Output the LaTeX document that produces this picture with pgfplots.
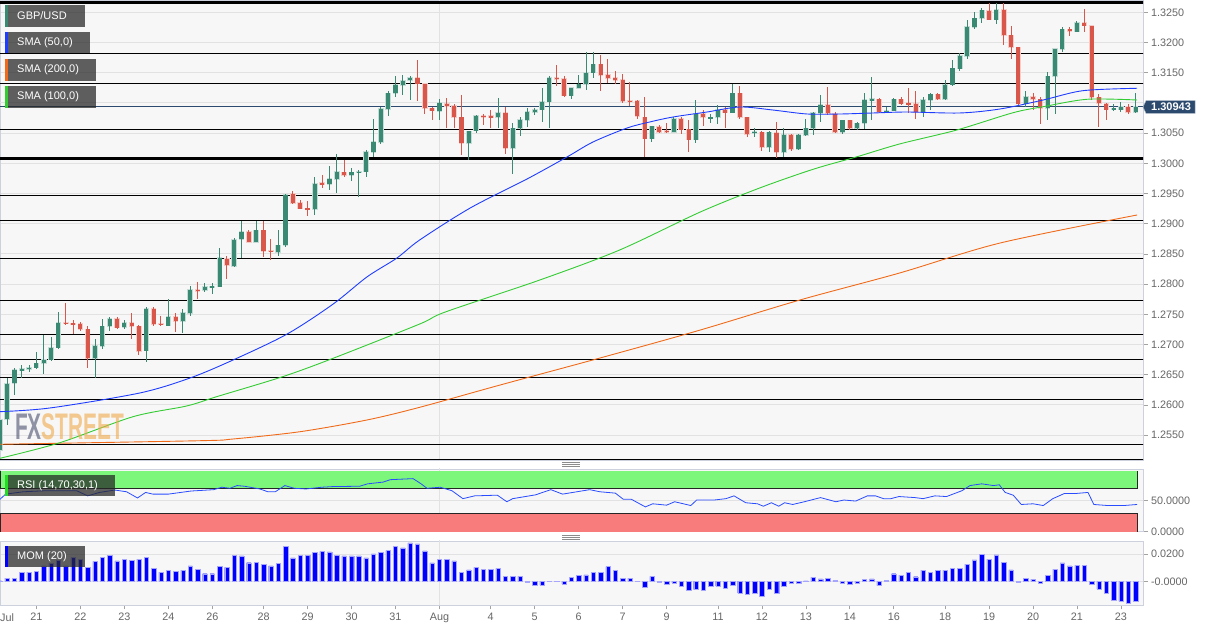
\documentclass[border=0pt]{standalone}
\usepackage{fontspec}
\setmainfont{Liberation Sans}
\usepackage{pgfplots}
\pgfplotsset{compat=1.18}
\usepackage{pgfplotstable}
\definecolor{bg}{HTML}{F7F7F7}
\definecolor{bord}{HTML}{CDD1DD}
\definecolor{gridc}{HTML}{E2E2E2}
\definecolor{tickc}{HTML}{666666}
\definecolor{cup}{HTML}{3A8A73}
\definecolor{cdn}{HTML}{D9574A}
\colorlet{cuph}{cup!30!white}
\colorlet{cdnh}{cdn!30!white}
\definecolor{smablue}{HTML}{1F3DFF}
\definecolor{smagreen}{HTML}{33CC33}
\definecolor{smaorange}{HTML}{F06A1A}
\definecolor{pricec}{HTML}{2C4A6E}
\definecolor{rsigreen}{HTML}{7CF77C}
\definecolor{rsired}{HTML}{F97C7C}
\definecolor{rsiline}{HTML}{2A4CFF}
\definecolor{mom}{HTML}{0000FF}
\definecolor{boxc}{HTML}{262626}
\definecolor{stripgreen}{HTML}{22DD22}
\definecolor{wmgray}{HTML}{48506E}
\definecolor{wmorange}{HTML}{F0AA4A}

\pgfplotstableread{
i o h l c
0 1.2525 1.2580 1.2520 1.2575
1 1.2576 1.2644 1.2567 1.2635
2 1.2636 1.2661 1.2616 1.2658
3 1.2658 1.2666 1.2644 1.2659
4 1.2659 1.2666 1.2655 1.2662
5 1.2662 1.2688 1.2660 1.2669
6 1.2669 1.2716 1.2652 1.2675
7 1.2675 1.2713 1.2672 1.2695
8 1.2695 1.2753 1.2693 1.2736
13 1.2677 1.2709 1.2644 1.2698
14 1.2697 1.2743 1.2692 1.2730
15 1.2730 1.2746 1.2723 1.2743
17 1.2729 1.2741 1.2725 1.2736
20 1.2690 1.2762 1.2671 1.2759
23 1.2731 1.2775 1.2730 1.2746
25 1.2739 1.2758 1.2719 1.2752
26 1.2752 1.2797 1.2748 1.2790
28 1.2790 1.2802 1.2787 1.2795
29 1.2795 1.2802 1.2783 1.2796
30 1.2796 1.2859 1.2795 1.2843
32 1.2830 1.2877 1.2828 1.2873
33 1.2874 1.2905 1.2843 1.2887
35 1.2870 1.2905 1.2869 1.2889
38 1.2853 1.2890 1.2847 1.2864
39 1.2864 1.2949 1.2862 1.2948
43 1.2924 1.2977 1.2914 1.2966
45 1.2966 1.2996 1.2955 1.2974
46 1.2974 1.3015 1.2950 1.2986
48 1.2980 1.2993 1.2971 1.2985
49 1.2985 1.2989 1.2945 1.2986
50 1.2986 1.3022 1.2978 1.3019
51 1.3019 1.3073 1.3011 1.3035
52 1.3035 1.3093 1.3032 1.3090
53 1.3090 1.3120 1.3079 1.3116
54 1.3116 1.3144 1.3110 1.3130
55 1.3130 1.3146 1.3113 1.3137
56 1.3138 1.3144 1.3105 1.3141
60 1.3087 1.3106 1.3071 1.3100
64 1.3033 1.3053 1.3005 1.3053
65 1.3054 1.3080 1.3050 1.3079
68 1.3076 1.3108 1.3058 1.3084
70 1.3025 1.3066 1.2982 1.3058
71 1.3058 1.3076 1.3046 1.3072
72 1.3072 1.3091 1.3060 1.3085
73 1.3085 1.3092 1.3080 1.3089
74 1.3089 1.3124 1.3068 1.3102
75 1.3102 1.3144 1.3058 1.3142
78 1.3112 1.3125 1.3107 1.3125
79 1.3125 1.3146 1.3124 1.3131
80 1.3131 1.3184 1.3122 1.3150
81 1.3150 1.3185 1.3142 1.3164
89 1.3041 1.3062 1.3036 1.3061
92 1.3052 1.3077 1.3051 1.3074
95 1.3039 1.3105 1.3034 1.3082
97 1.3075 1.3081 1.3066 1.3076
98 1.3076 1.3096 1.3065 1.3088
100 1.3084 1.3132 1.3084 1.3116
103 1.3050 1.3058 1.3044 1.3052
105 1.3027 1.3054 1.3019 1.3051
107 1.3018 1.3058 1.3010 1.3047
109 1.3023 1.3048 1.3022 1.3047
110 1.3047 1.3074 1.3045 1.3058
111 1.3058 1.3085 1.3047 1.3083
112 1.3083 1.3113 1.3069 1.3097
115 1.3052 1.3072 1.3048 1.3071
117 1.3058 1.3069 1.3055 1.3066
118 1.3066 1.3116 1.3056 1.3105
119 1.3105 1.3143 1.3072 1.3106
121 1.3085 1.3093 1.3084 1.3087
122 1.3087 1.3108 1.3086 1.3106
126 1.3085 1.3110 1.3077 1.3105
127 1.3105 1.3116 1.3088 1.3114
129 1.3106 1.3138 1.3105 1.3130
130 1.3130 1.3171 1.3128 1.3157
131 1.3157 1.3182 1.3152 1.3178
132 1.3178 1.3237 1.3172 1.3226
133 1.3226 1.3251 1.3223 1.3240
134 1.3240 1.3257 1.3233 1.3253
136 1.3238 1.3266 1.3231 1.3254
140 1.3099 1.3120 1.3094 1.3110
143 1.3091 1.3152 1.3072 1.3144
144 1.3144 1.3190 1.3081 1.3189
145 1.3189 1.3225 1.3185 1.3222
147 1.3218 1.3236 1.3218 1.3233
152 1.3089 1.3098 1.3087 1.3091
153 1.3089 1.3102 1.3085 1.3094
155 1.3085 1.3116 1.3084 1.3094
}\upt

\pgfplotstableread{
i o h l c
9 1.2736 1.2768 1.2732 1.2735
10 1.2735 1.2741 1.2717 1.2734
11 1.2734 1.2738 1.2722 1.2726
12 1.2725 1.2731 1.2662 1.2677
16 1.2743 1.2746 1.2725 1.2728
18 1.2736 1.2752 1.2709 1.2730
19 1.2730 1.2732 1.2682 1.2689
21 1.2759 1.2762 1.2730 1.2734
22 1.2734 1.2748 1.2731 1.2733
24 1.2746 1.2752 1.2720 1.2739
27 1.2790 1.2804 1.2776 1.2789
31 1.2842 1.2847 1.2808 1.2831
34 1.2887 1.2890 1.2869 1.2870
36 1.2889 1.2905 1.2845 1.2855
37 1.2855 1.2874 1.2840 1.2854
40 1.2949 1.2954 1.2932 1.2934
41 1.2934 1.2939 1.2924 1.2925
42 1.2925 1.2938 1.2912 1.2924
44 1.2967 1.2981 1.2959 1.2966
47 1.2985 1.3005 1.2978 1.2980
57 1.3142 1.3171 1.3104 1.3132
58 1.3132 1.3132 1.3082 1.3091
59 1.3091 1.3093 1.3071 1.3087
61 1.3098 1.3108 1.3058 1.3095
62 1.3095 1.3098 1.3058 1.3077
63 1.3076 1.3113 1.3014 1.3033
66 1.3079 1.3082 1.3063 1.3077
67 1.3078 1.3089 1.3058 1.3076
69 1.3084 1.3093 1.3016 1.3025
76 1.3142 1.3163 1.3128 1.3140
77 1.3140 1.3144 1.3110 1.3112
82 1.3164 1.3179 1.3119 1.3146
83 1.3146 1.3172 1.3133 1.3141
84 1.3141 1.3153 1.3131 1.3138
85 1.3138 1.3148 1.3100 1.3103
86 1.3104 1.3135 1.3095 1.3102
87 1.3103 1.3105 1.3073 1.3078
88 1.3076 1.3110 1.3011 1.3041
90 1.3060 1.3064 1.3050 1.3052
91 1.3054 1.3066 1.3050 1.3052
93 1.3074 1.3076 1.3048 1.3056
94 1.3056 1.3072 1.3019 1.3039
96 1.3082 1.3088 1.3061 1.3076
99 1.3088 1.3094 1.3058 1.3084
101 1.3116 1.3128 1.3073 1.3076
102 1.3076 1.3077 1.3044 1.3048
104 1.3051 1.3053 1.3021 1.3027
106 1.3051 1.3069 1.3008 1.3018
108 1.3047 1.3048 1.3021 1.3023
113 1.3097 1.3127 1.3080 1.3083
114 1.3082 1.3085 1.3050 1.3052
116 1.3071 1.3072 1.3055 1.3058
120 1.3106 1.3108 1.3084 1.3085
123 1.3106 1.3110 1.3097 1.3099
124 1.3100 1.3124 1.3083 1.3098
125 1.3098 1.3120 1.3074 1.3085
128 1.3114 1.3116 1.3105 1.3106
135 1.3253 1.3265 1.3237 1.3238
137 1.3254 1.3265 1.3196 1.3212
138 1.3212 1.3227 1.3172 1.3192
139 1.3192 1.3193 1.3095 1.3099
141 1.3110 1.3116 1.3088 1.3106
142 1.3106 1.3110 1.3065 1.3091
146 1.3222 1.3225 1.3211 1.3219
148 1.3233 1.3255 1.3218 1.3228
149 1.3228 1.3228 1.3105 1.3109
150 1.3109 1.3115 1.3060 1.3099
151 1.3098 1.3100 1.3071 1.3089
154 1.3094 1.3099 1.3082 1.3085
}\dnt

\pgfplotstableread{
i m
0 0.0005
1 0.0025
2 0.0022
3 0.0069
4 0.0069
5 0.0077
6 0.0114
7 0.0133
8 0.0153
9 0.0114
10 0.0178
11 0.0163
12 0.0104
13 0.0148
14 0.0178
15 0.0193
16 0.0151
17 0.0163
18 0.0153
19 0.0165
20 0.0180
21 0.0094
22 0.0069
23 0.0084
24 0.0074
25 0.0084
26 0.0114
27 0.0089
28 0.0057
29 0.0057
30 0.0109
31 0.0104
32 0.0193
33 0.0188
34 0.0138
35 0.0143
36 0.0126
37 0.0114
38 0.0133
39 0.0257
40 0.0173
41 0.0190
42 0.0190
43 0.0215
44 0.0222
45 0.0217
46 0.0193
47 0.0188
48 0.0188
49 0.0188
50 0.0173
51 0.0203
52 0.0215
53 0.0227
54 0.0259
55 0.0247
56 0.0284
57 0.0277
58 0.0225
59 0.0136
60 0.0165
61 0.0165
62 0.0151
63 0.0067
64 0.0086
65 0.0104
66 0.0091
67 0.0091
68 0.0096
69 0.0040
70 0.0040
71 0.0037
72 -0.0002
73 -0.0025
74 -0.0027
75 0.0002
76 0.0001
77 -0.0020
78 0.0032
79 0.0047
80 0.0049
81 0.0069
82 0.0069
83 0.0109
84 0.0084
85 0.0025
86 0.0025
87 0.0001
88 -0.0042
89 0.0037
90 -0.0007
91 -0.0020
92 -0.0010
93 -0.0032
94 -0.0062
95 -0.0059
96 -0.0062
97 -0.0032
98 -0.0035
99 -0.0047
100 -0.0030
101 -0.0086
102 -0.0094
103 -0.0089
104 -0.0109
105 -0.0054
106 -0.0084
107 -0.0032
108 -0.0015
109 -0.0012
110 0.0005
111 0.0030
112 0.0020
113 0.0022
114 0.0007
115 -0.0012
116 -0.0017
117 -0.0010
118 0.0015
119 0.0020
120 -0.0030
121 0.0010
122 0.0057
123 0.0047
124 0.0069
125 0.0035
126 0.0084
127 0.0067
128 0.0084
129 0.0082
130 0.0096
131 0.0094
132 0.0128
133 0.0158
134 0.0200
135 0.0165
136 0.0195
137 0.0143
138 0.0086
139 -0.0002
140 0.0022
141 0.0017
142 -0.0015
143 0.0044
144 0.0091
145 0.0136
146 0.0114
147 0.0119
148 0.0121
149 -0.0017
150 -0.0057
151 -0.0089
152 -0.0136
153 -0.0146
154 -0.0163
155 -0.0143
}\momt

\pgfplotsset{
  panel/.style={scale only axis, width=1143pt, xmin=0.0328, xmax=156.01,
    axis background/.style={fill=bg}, axis line style={draw=bord, line width=0.8pt},
    ytick pos=right, yticklabel pos=right, tick align=outside, major tick length=4.5pt,
    tick style={draw=tickc!60, line width=0.7pt}, scaled ticks=false,
    grid style={draw=gridc, line width=0.8pt}, ymajorgrids,
    tick label style={font=\fontsize{10.8}{13}\selectfont, text=tickc}},
  candle/.style 2 args={draw=none, mark=none, forget plot,
    error bars/y dir=both, error bars/y explicit, error bars/error mark=none,
    error bars/error bar style={line width=#1, draw=#2, solid}}
}

\begin{document}
\begin{tikzpicture}
\useasboundingbox (0,0) rectangle (1214pt,631pt);
\fill[white] (0,0) rectangle (1214pt,631pt);

% ---------------- main price panel
\begin{axis}[panel, at={(0pt,171pt)}, anchor=south west, height=460pt,
  ymin=1.250878, ymax=1.327036, xtick=\empty,
  ytick={1.255,1.26,1.265,1.27,1.275,1.28,1.285,1.29,1.295,1.3,1.305,1.315,1.32,1.325},
  yticklabels={1.2550,1.2600,1.2650,1.2700,1.2750,1.2800,1.2850,1.2900,1.2950,1.3000,1.3050,1.3150,1.3200,1.3250}]
\addplot[gridc, line width=0.8pt] coordinates {(60,1.2) (60,1.4)};
\addplot[gridc, line width=0.8pt] coordinates {(0,1.31) (157,1.31)};
\pgfplotsinvokeforeach{1.31821,1.31330,1.30568,1.29475,1.29051,1.28422,1.27727,1.27164,1.26750,1.26452,1.26088,1.25353,1.25094}{
  \addplot[black, line width=0.9pt] coordinates {(0,#1) (157,#1)};
}
\addplot[black, line width=2.7pt] coordinates {(0,1.32666) (157,1.32666)};
\addplot[black, line width=2.7pt] coordinates {(0,1.30083) (157,1.30083)};
\addplot[pricec, line width=0.9pt] coordinates {(0,1.30943) (157,1.30943)};

% candle halos
\addplot[candle={5.6pt}{cuph}] table[x=i, y expr={(\thisrow{o}+\thisrow{c})/2}, y error expr={max(abs(\thisrow{c}-\thisrow{o})/2,0.00007)+0.00012}] {\upt};
\addplot[candle={5.6pt}{cdnh}] table[x=i, y expr={(\thisrow{o}+\thisrow{c})/2}, y error expr={max(abs(\thisrow{c}-\thisrow{o})/2,0.00007)+0.00012}] {\dnt};
% wicks
\addplot[candle={1pt}{cup}] table[x=i, y expr={(\thisrow{h}+\thisrow{l})/2}, y error expr={(\thisrow{h}-\thisrow{l})/2}] {\upt};
\addplot[candle={1pt}{cdn}] table[x=i, y expr={(\thisrow{h}+\thisrow{l})/2}, y error expr={(\thisrow{h}-\thisrow{l})/2}] {\dnt};
% bodies
\addplot[candle={4.2pt}{cup}] table[x=i, y expr={(\thisrow{o}+\thisrow{c})/2}, y error expr={max(abs(\thisrow{c}-\thisrow{o})/2,0.00007)}] {\upt};
\addplot[candle={4.2pt}{cdn}] table[x=i, y expr={(\thisrow{o}+\thisrow{c})/2}, y error expr={max(abs(\thisrow{c}-\thisrow{o})/2,0.00007)}] {\dnt};

% SMA 200
\addplot[smaorange, line width=0.9pt, smooth] coordinates {
(0.03,1.25348) (27.3,1.25407) (31.8,1.25435) (40.97,1.25556) (50.1,1.25750) (57.3,1.25960)
(68.3,1.26330) (81.9,1.26776) (95.6,1.27240) (109.2,1.27737) (122.8,1.28184) (136.5,1.28680) (155.2,1.29144)};
% SMA 100
\addplot[smagreen, line width=0.9pt, smooth] coordinates {
(0.03,1.25116) (8.2,1.25374) (18.2,1.25805) (25.5,1.25982) (29.6,1.26136) (38.6,1.26467) (45.5,1.26772)
(57.3,1.27339) (60.8,1.27538) (73.7,1.28068) (84.6,1.28565) (95.6,1.29194) (103.7,1.29591) (111,1.29901)
(117,1.30109) (122.8,1.30320) (130.6,1.30551) (138.3,1.30838) (142.4,1.30937) (148.4,1.31060) (155.2,1.31048)};
% SMA 50
\addplot[smablue, line width=0.9pt, smooth] coordinates {
(0.03,1.25888) (6.86,1.25949) (19.1,1.26197) (25.96,1.26445) (31.83,1.26743) (39.2,1.27172) (45.5,1.27670)
(50.1,1.28118) (54.2,1.28432) (57.3,1.28730) (64.2,1.29260) (71.95,1.29740) (77.4,1.30104) (80.96,1.30353)
(85.6,1.30584) (88.7,1.30684) (91.9,1.30767) (96.5,1.30849) (101,1.30932) (105.5,1.30882) (110.2,1.30816)
(114.7,1.30816) (119.2,1.30833) (123.8,1.30849) (131,1.30833) (136.5,1.30899) (142.4,1.31048) (147.8,1.31202) (155.2,1.31242)};
\end{axis}

% ---------------- RSI panel
\begin{axis}[panel, at={(0pt,99.3pt)}, anchor=south west, height=62.7pt,
  ymin=0, ymax=101.13, xtick=\empty, ytick={0,50}, yticklabels={0.0000,50.0000}]
\addplot[gridc, line width=0.8pt] coordinates {(60,0) (60,110)};
\addplot[fill=rsigreen, draw=none] coordinates {(0.0328,70) (155.25,70) (155.25,97.9) (0.0328,97.9)} -- cycle;
\addplot[fill=rsired, draw=none] coordinates {(0.0328,0) (155.25,0) (155.25,30) (0.0328,30)} -- cycle;
\addplot[black!85, line width=0.7pt] coordinates {(0.12,97.9) (0.12,70) (155.25,70) (155.25,97.9)};
\addplot[black!85, line width=0.7pt] coordinates {(0.12,0) (0.12,30) (155.25,30) (155.25,0)};
\addplot[rsiline, line width=0.8pt] coordinates {
(0.03,52.2) (0.8,60.6) (3.2,64.4) (6.3,66.1) (10.5,66.1) (12,57.8) (13.6,63.3) (15.7,67.2) (17.3,64.4)
(18.8,54.4) (19.9,63.3) (20.9,60.6) (23,60.6) (26.1,65.6) (29.2,67.8) (30.3,71.7) (31.4,70) (32.4,74.4)
(33.4,73.3) (35.5,68.9) (36.6,64.4) (37.6,64.4) (38.9,74.4) (40.2,70) (41.8,68.9) (43.9,71.7) (45.5,72.8)
(49.1,73.3) (50.2,77.2) (52.3,80) (53.3,83.9) (56.4,85.6) (57.5,77.2) (58.3,70) (60.1,71.7) (61.7,66.1)
(63.2,53.3) (64.8,57.8) (67.9,58.9) (69.2,48.3) (70,53.3) (73.1,59.4) (75.2,67.8) (76.8,60.6) (80.5,67.8)
(81.9,64.4) (84,62.2) (85.1,52.2) (86.2,52.2) (88.1,40) (89.1,45) (91,42.8) (92.1,48.3) (94.3,42.2)
(95.1,51.1) (97.5,51.1) (99.1,53.3) (100.2,57.8) (101.8,46.7) (103.4,45) (104.2,41.1) (105.3,46.7)
(106.3,41.1) (107.1,46.7) (108.2,43.9) (109.8,48.3) (112,55) (114.1,48.3) (115.2,51.1) (116.8,49.4)
(118.4,57.8) (119.5,57.8) (120.6,53.3) (121.6,53.3) (122.7,56.7) (124.9,55) (126,53.3) (127.6,57.8)
(129.2,56.7) (131.3,66.1) (132.4,74.4) (134,77.2) (135.6,74.4) (136.4,75.6) (137.2,63.3) (138.3,58.9)
(139.4,43.9) (141,45) (142.4,42.2) (143.7,53.3) (145.3,61.7) (146.9,61.7) (148.5,63.3) (149.3,43.9)
(151.2,42.2) (153.4,42.2) (155.2,43.9)};
\end{axis}

% ---------------- MOM panel
\begin{axis}[panel, at={(0pt,26pt)}, anchor=south west, height=64pt,
  ymin=-0.01728, ymax=0.02978, ytick={0,0.02}, yticklabels={-0.0000,0.0200},
  xtick pos=left,
  xtick={5,11,17,23,29,36,42,48,54,60,67,73,79,85,91,98,104,110,116,122,129,135,141,147,153},
  xticklabels={21,22,23,24,26,28,29,30,31,Aug,4,5,6,7,9,11,12,13,14,16,18,19,20,21,23}]
\addplot[gridc, line width=0.8pt] coordinates {(60,-1) (60,1)};
\addplot[ybar, bar width=0.6, fill=mom, draw=mom!35, line width=0.4pt] table[x=i, y=m] {\momt};
\end{axis}

\node[anchor=west, inner sep=0pt, text=tickc, font=\fontsize{10.8}{13}\selectfont] at (0pt,13pt) {Jul};

% separators
\foreach \yy in {164.5,166.5,168.5,91.5,93.5,95.5} {\draw[black!45, line width=0.6pt] (562pt,\yy pt) -- (580pt,\yy pt);}

% watermark
\node[anchor=base west, inner sep=0pt, xscale=0.565, opacity=0.6, font=\bfseries\fontsize{37}{37}\selectfont] at (15pt,191pt) {\textcolor{wmgray}{FX}\textcolor{wmorange}{STREET}};

% legend boxes
\fill[boxc, opacity=0.73] (5pt,604pt) rectangle (85pt,626pt);
\fill[cup] (5pt,604pt) rectangle (7.5pt,626pt);
\node[anchor=west, inner sep=0pt, text=white, font=\fontsize{11}{13}\selectfont] at (17pt,615pt) {GBP/USD};
\fill[boxc, opacity=0.73] (5pt,578pt) rectangle (90pt,599pt);
\fill[smablue] (5pt,578pt) rectangle (7.5pt,599pt);
\node[anchor=west, inner sep=0pt, text=white, font=\fontsize{11}{13}\selectfont] at (17pt,588.5pt) {SMA (50,0)};
\fill[boxc, opacity=0.73] (5pt,550pt) rectangle (96pt,572pt);
\fill[smaorange] (5pt,550pt) rectangle (7.5pt,572pt);
\node[anchor=west, inner sep=0pt, text=white, font=\fontsize{11}{13}\selectfont] at (17pt,561pt) {SMA (200,0)};
\fill[boxc, opacity=0.73] (5pt,523pt) rectangle (96pt,545pt);
\fill[smagreen] (5pt,523pt) rectangle (7.5pt,545pt);
\node[anchor=west, inner sep=0pt, text=white, font=\fontsize{11}{13}\selectfont] at (17pt,534pt) {SMA (100,0)};
\fill[boxc, opacity=0.73] (5pt,135pt) rectangle (115pt,156pt);
\fill[stripgreen] (5pt,135pt) rectangle (7.5pt,156pt);
\node[anchor=west, inner sep=0pt, text=white, font=\fontsize{11}{13}\selectfont] at (17pt,145.5pt) {RSI (14,70,30,1)};
\fill[boxc, opacity=0.73] (5pt,64pt) rectangle (85pt,85pt);
\fill[mom] (5pt,64pt) rectangle (7.5pt,85pt);
\node[anchor=west, inner sep=0pt, text=white, font=\fontsize{11}{13}\selectfont] at (17pt,74.5pt) {MOM (20)};

% current price box
\filldraw[fill=pricec, draw=pricec!40, line width=0.5pt] (1143pt,524pt) -- (1146pt,530.3pt) -- (1195pt,530.3pt) -- (1195pt,517.7pt) -- (1146pt,517.7pt) -- cycle;
\node[inner sep=0pt, text=white, font=\bfseries\fontsize{11}{12}\selectfont] at (1171pt,524pt) {1.30943};
\end{tikzpicture}
\end{document}
